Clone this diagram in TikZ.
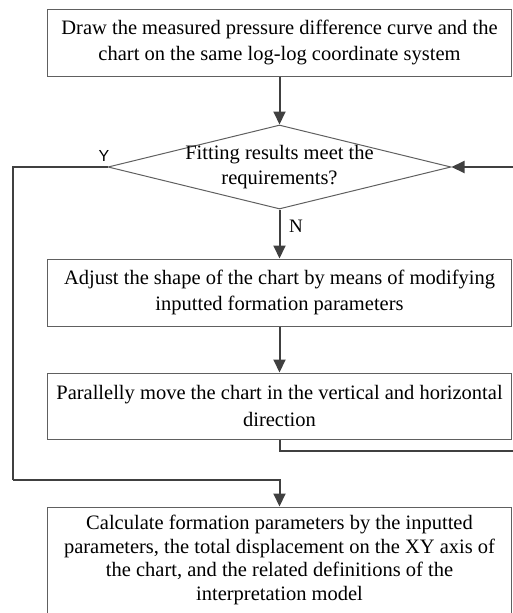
\documentclass[tikz,border=0pt]{standalone}
\usepackage{fontspec}
\setmainfont{Liberation Serif}
\newfontfamily\ysans{Liberation Sans}
\usetikzlibrary{shapes.geometric,arrows.meta}
\definecolor{linec}{HTML}{404040}
\definecolor{boxc}{HTML}{606060}
\tikzset{
  procbox/.style={draw=boxc, line width=1pt, minimum width=464pt, inner sep=0pt, align=center,
    font=\fontsize{20.5}{26.5}\selectfont},
  flow/.style={draw=linec, line width=2pt, -{Triangle[length=13pt,width=12pt]}},
  flowline/.style={draw=linec, line width=2pt},
  lbl/.style={inner sep=0pt, text=black}
}
\begin{document}
\begin{tikzpicture}[x=1pt,y=-1pt]
\useasboundingbox (0,0) rectangle (513,613);
\node[procbox, minimum height=67pt] (b1) at (279.5,42.5)
  {Draw the measured pressure difference curve and the\\chart on the same log-log coordinate system};
\node[diamond, draw=boxc, line width=1pt, minimum width=343pt, minimum height=84pt, inner sep=0pt] (dec) at (279.5,167) {};
\node[align=center, inner sep=0pt, font=\fontsize{20.5}{25}\selectfont] (dect) at (dec.center) {Fitting results meet the\\requirements?};
\node[procbox, minimum height=67pt] (b3) at (279.5,292.5)
  {Adjust the shape of the chart by means of modifying\\inputted formation parameters};
\node[procbox, minimum height=66pt] (b4) at (279.5,406)
  {Parallelly move the chart in the vertical and horizontal\\direction};
\node[procbox, minimum height=106pt, font=\fontsize{20.5}{23.5}\selectfont] (b5) at (279.5,560)
  {Calculate formation parameters by the inputted\\parameters, the total displacement on the XY axis of\\the chart, and the related definitions of the\\interpretation model};
\coordinate (rt) at (517,451);
\coordinate (lf) at (13,480);
\draw[flow] (b1.south) -- (dec.north);
\draw[flow] (dec.south) -- (b3.north);
\draw[flow] (b3.south) -- (b4.north);
\draw[flow] (b4.south) |- (rt) |- (dec.east);
\draw[flowline] (dec.west) -| (lf);
\draw[flow] (lf) -| (b5.north);
\node[lbl, font=\ysans\fontsize{16}{16}\selectfont] (ylab) at (104,156) {Y};
\node[lbl, font=\fontsize{19}{19}\selectfont] (nlab) at (296,226) {N};
\end{tikzpicture}
\end{document}
